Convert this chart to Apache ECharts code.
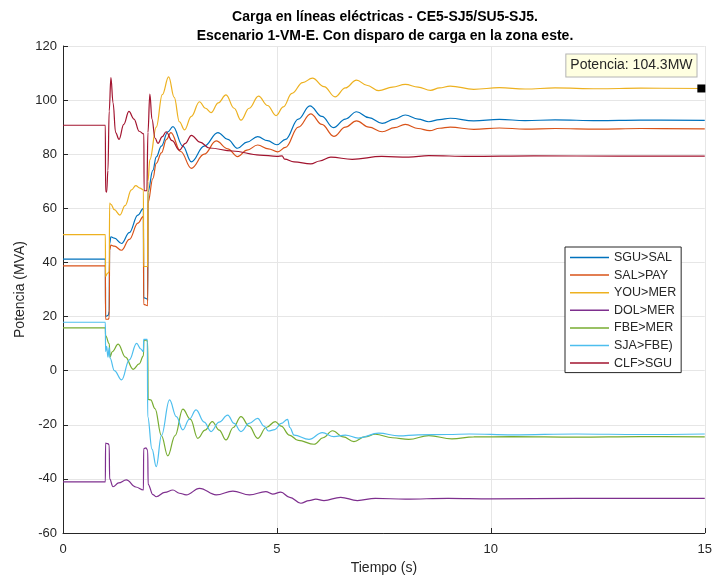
<!DOCTYPE html>
<html>
<head>
<meta charset="utf-8">
<script src="https://cdn.jsdelivr.net/npm/echarts@6/dist/echarts.min.js"></script>
<style>
  html, body { margin: 0; padding: 0; background: #ffffff; }
  #chart { width: 715px; height: 580px; }
</style>
</head>
<body>
<div id="chart"></div>
<script>
// Line loading after the two switching events (t = 1 s and t = 2 s), pairs of [time s, MVA]
const seriesNames = ['SGU>SAL', 'SAL>PAY', 'YOU>MER', 'DOL>MER', 'FBE>MER', 'SJA>FBE)', 'CLF>SGU'];
const seriesColors = ['#0072BD', '#D95319', '#EDB120', '#7E2F8E', '#77AC30', '#4DBEEE', '#A2142F'];

const sguSal = [[0,41.2],[0.99,41.2],[0.995,20],[1.06,20.5],[1.08,22],[1.09,47],[1.12,49.5],[1.2,49],[1.37,47],[1.55,51],[1.75,57.5],[1.88,60],
  [1.885,27],[1.97,26.5],[1.98,26],[1.985,66],[2.1,74],[2.18,79],[2.3,83],[2.45,88.3],[2.57,90.2],[2.8,83],[3.0,77.2],[3.3,83],[3.62,88],
  [3.85,85.5],[4.08,82.2],[4.3,84.5],[4.55,86.5],[4.78,85],[5.0,83.5],[5.2,85.5],[5.5,93],[5.77,97.9],[6.05,94],[6.32,89.8],[6.6,93],
  [6.86,95.7],[7.15,93.5],[7.46,91.4],[7.75,93],[8.0,94.5],[8.3,93],[8.55,92],[8.8,92.8],[9.05,93.3],[9.6,92.3],[10.2,92.9],[10.8,92.4],
  [11.5,92.7],[12.5,92.4],[13.5,92.6],[15,92.5]];

const salPay = [[0,38.7],[0.99,38.7],[0.995,19],[1.06,19],[1.08,19.5],[1.09,44.5],[1.12,46.4],[1.2,46],[1.37,44.5],[1.55,48.5],[1.75,54.5],[1.88,57],
  [1.885,24.5],[1.98,24],[1.985,62],[2.1,71],[2.18,76.6],[2.3,80.5],[2.42,85.5],[2.52,88],[2.75,81],[3.0,74.8],[3.3,80],[3.58,84.9],
  [3.85,82],[4.08,79.1],[4.3,81.5],[4.55,83.4],[4.8,82],[5.02,80.9],[5.2,82.5],[5.5,90],[5.79,94.9],[6.05,91],[6.33,86.6],[6.6,90],
  [6.86,92.3],[7.15,90],[7.46,88.3],[7.75,89.8],[8.0,91],[8.3,89.5],[8.57,88.7],[8.8,89.6],[9.05,90],[9.6,89.2],[10.2,89.7],[10.8,89.3],
  [11.5,89.5],[12.5,89.3],[13.5,89.5],[15,89.4]];

const youMer = [[0,50.3],[0.99,50.3],[0.995,34.8],[1.04,36],[1.08,36.5],[1.09,61.9],[1.12,61.5],[1.2,59.5],[1.33,57.5],[1.45,61],[1.6,66.8],
  [1.7,68.4],[1.8,67.5],[1.88,66.8],[1.885,38.5],[1.98,38.5],[1.985,70],[2.03,78],[2.18,90],[2.32,102],[2.47,108.6],[2.6,101],[2.72,92],
  [2.84,89],[3.0,94],[3.19,99.4],[3.33,97],[3.46,95.4],[3.63,99],[3.81,101.9],[4.0,97],[4.16,92.6],[4.35,97],[4.57,101.5],[4.78,98],
  [4.98,94.3],[5.15,97.5],[5.35,102.5],[5.6,106.5],[5.83,108.1],[6.1,105],[6.36,101.2],[6.6,104.5],[6.86,107.4],[7.1,105.5],[7.38,103.5],
  [7.7,104.8],[8.0,105.8],[8.3,104.8],[8.59,103.6],[8.8,104.5],[9.05,105.2],[9.6,104],[10.2,104.6],[10.8,104.1],[11.5,104.5],[12.5,104.2],
  [13.5,104.4],[15,104.3]];

const dolMer = [[0,-41.1],[0.99,-41.1],[0.995,-26.8],[1.05,-27],[1.08,-27.5],[1.09,-40],[1.17,-42.9],[1.3,-41.5],[1.48,-40.4],[1.7,-43],[1.88,-44.1],
  [1.885,-28.9],[1.94,-28.5],[1.98,-29.5],[1.99,-42],[2.1,-45.8],[2.18,-46.6],[2.38,-45],[2.57,-44.1],[2.72,-45.3],[2.88,-45.9],[3.19,-43.5],
  [3.58,-45.9],[3.97,-44.5],[4.36,-45.9],[4.74,-44.7],[4.9,-45.6],[5.09,-44.9],[5.3,-46.8],[5.56,-49],[5.75,-48],[5.91,-47.5],[6.1,-48],
  [6.49,-46.8],[6.88,-48],[7.3,-47.2],[8,-47.5],[9,-47.2],[10,-47.4],[12,-47.2],[15,-47.2]];

const fbeMer = [[0,15.8],[0.99,15.8],[0.995,13],[1.08,10],[1.1,5],[1.15,7],[1.29,9.8],[1.46,5],[1.64,0.5],[1.78,2.5],[1.88,5.5],[1.89,11],[1.95,11.5],
  [1.98,10.5],[1.99,-10.6],[2.05,-10.8],[2.15,-14],[2.3,-24],[2.45,-31.5],[2.62,-24],[2.8,-14.2],[2.98,-18],[3.15,-25],[3.32,-22],[3.49,-18.8],
  [3.65,-22],[3.81,-25.6],[3.98,-21],[4.16,-17],[4.35,-20.5],[4.55,-25],[4.75,-21],[4.96,-18.8],[5.1,-20.5],[5.29,-23.8],[5.5,-25.8],
  [5.87,-27.2],[6.08,-24.8],[6.3,-22.2],[6.55,-24.5],[6.8,-26.2],[7.05,-24.5],[7.3,-23.5],[7.7,-24.8],[8.08,-25.4],[8.55,-24],[9.09,-25.2],
  [9.6,-24.5],[10.5,-24.4],[12,-24.6],[13.5,-24.4],[15,-24.5]];

const sjaFbe = [[0,17.9],[0.99,17.9],[0.995,7],[1.02,9],[1.05,5],[1.08,8.5],[1.1,4.6],[1.2,0],[1.37,-3.4],[1.55,4],[1.72,10.1],[1.82,8],[1.88,7],
  [1.885,11.6],[1.97,11.6],[1.98,-17],[2.08,-29],[2.18,-35.5],[2.3,-24],[2.49,-10.8],[2.65,-17],[2.8,-21.9],[2.95,-18],[3.11,-14.5],
  [3.3,-19],[3.46,-22.5],[3.65,-19],[3.85,-16.4],[4.0,-19.5],[4.16,-22.5],[4.35,-19.5],[4.55,-17.6],[4.7,-20.5],[4.8,-22.3],[4.95,-21.8],
  [5.1,-19.5],[5.25,-18],[5.3,-21],[5.4,-23.8],[5.75,-25.4],[6.06,-22.9],[6.33,-24.4],[6.6,-23.8],[6.9,-24.9],[7.38,-23.1],[7.85,-24.1],
  [8.3,-23.7],[9,-23.6],[9.5,-23.4],[10.5,-23.7],[12,-23.4],[13.5,-23.6],[15,-23.4]];

const clfSgu = [[0,90.7],[0.99,90.7],[0.995,66.5],[1.02,66],[1.05,74],[1.08,96],[1.12,108.3],[1.17,99],[1.23,88],[1.31,85.5],[1.42,91],[1.54,95.8],
  [1.66,93],[1.78,88.5],[1.89,87.5],[1.895,66.5],[1.96,66.5],[1.985,88],[2.03,102.2],[2.08,93],[2.15,86],[2.22,84],[2.32,86.5],[2.41,88.3],
  [2.55,85],[2.72,81.5],[2.86,84],[3.0,87],[3.2,84.5],[3.42,82.3],[3.96,81.2],[4.6,79.7],[5.0,79.2],[5.12,79.4],[5.18,78.2],[5.4,77.2],
  [5.79,76.4],[6.0,77.5],[6.26,78.9],[6.76,78.1],[7.45,79.2],[8.08,78.9],[8.55,79.5],[9.5,79.2],[11,79.4],[13,79.3],[15,79.3]];

const seriesData = [sguSal, salPay, youMer, dolMer, fbeMer, sjaFbe, clfSgu];

// Data tip on the YOU>MER trace
const tipPoint = [14.92, 104.3];

const xTicks = { min: 0, max: 15, interval: 5 };
const yTicks = { min: -60, max: 120, interval: 20 };

const FONT = '"Liberation Sans", Arial, Helvetica, sans-serif';
const INK = '#262626';

const chart = echarts.init(document.getElementById('chart'), null, { renderer: 'canvas' });

const series = seriesNames.map((name, i) => {
  const s = {
    name: name,
    type: 'line',
    data: seriesData[i],
    symbol: 'none',
    smooth: 0.4,
    smoothMonotone: 'x',
    lineStyle: { color: seriesColors[i], width: 1.2 },
    itemStyle: { color: seriesColors[i] },
    emphasis: { disabled: true },
    animation: false,
    z: 2
  };
  if (name === 'YOU>MER') {
    s.markPoint = {
      symbol: 'rect',
      symbolSize: 8,
      itemStyle: { color: '#000000' },
      data: [{ coord: tipPoint, value: tipPoint[1] }],
      label: {
        show: true,
        formatter: 'Potencia: ' + tipPoint[1] + 'MW',
        position: [-131, -30],
        fontFamily: FONT,
        fontSize: 14,
        color: INK,
        backgroundColor: '#FFFFE1',
        borderColor: '#B4B4B4',
        borderWidth: 1,
        padding: [4, 4, 4, 4]
      },
      emphasis: { disabled: true },
      animation: false
    };
  }
  return s;
});

chart.setOption({
  animation: false,
  backgroundColor: '#ffffff',
  title: {
    text: 'Carga en líneas eléctricas - CE5-SJ5/SU5-SJ5.\nEscenario 1-VM-E. Con disparo de carga en la zona este.',
    left: 385,
    top: 8,
    padding: 0,
    textAlign: 'center',
    textStyle: { fontFamily: FONT, fontSize: 14, fontWeight: 'bold', color: '#000000', lineHeight: 19 }
  },
  grid: { left: 63, right: 8, top: 46, bottom: 47, containLabel: false },
  legend: {
    orient: 'vertical',
    left: 565,
    top: 247,
    padding: [4, 5, 3, 5],
    itemWidth: 39,
    itemHeight: 14,
    itemGap: 4.6,
    icon: 'path://M0,0H39V1.5H0Z',
    symbolKeepAspect: true,
    backgroundColor: '#ffffff',
    borderColor: INK,
    borderWidth: 1,
    borderRadius: 0,
    selectedMode: false,
    textStyle: { fontFamily: FONT, fontSize: 12.5, color: INK },
    data: seriesNames
  },
  xAxis: {
    type: 'value',
    min: xTicks.min, max: xTicks.max, interval: xTicks.interval,
    name: 'Tiempo (s)',
    nameLocation: 'middle',
    nameGap: 28,
    nameMoveOverlap: false,
    nameTextStyle: { fontFamily: FONT, fontSize: 14, color: INK },
    axisLine: { show: true, onZero: false, lineStyle: { color: INK, width: 1 } },
    axisTick: { show: true, inside: true, length: 5, lineStyle: { color: INK } },
    axisLabel: { margin: 10, fontFamily: FONT, fontSize: 13, color: INK },
    splitLine: { show: true, lineStyle: { color: '#E6E6E6', width: 1 } }
  },
  yAxis: {
    type: 'value',
    min: yTicks.min, max: yTicks.max, interval: yTicks.interval,
    name: 'Potencia (MVA)',
    nameLocation: 'middle',
    nameGap: 36,
    nameMoveOverlap: false,
    nameTextStyle: { fontFamily: FONT, fontSize: 14, color: INK },
    axisLine: { show: true, onZero: false, lineStyle: { color: INK, width: 1 } },
    axisTick: { show: true, inside: true, length: 5, lineStyle: { color: INK } },
    axisLabel: { margin: 6, fontFamily: FONT, fontSize: 13, color: INK },
    splitLine: { show: true, lineStyle: { color: '#E6E6E6', width: 1 } }
  },
  series: series
});
</script>
</body>
</html>
